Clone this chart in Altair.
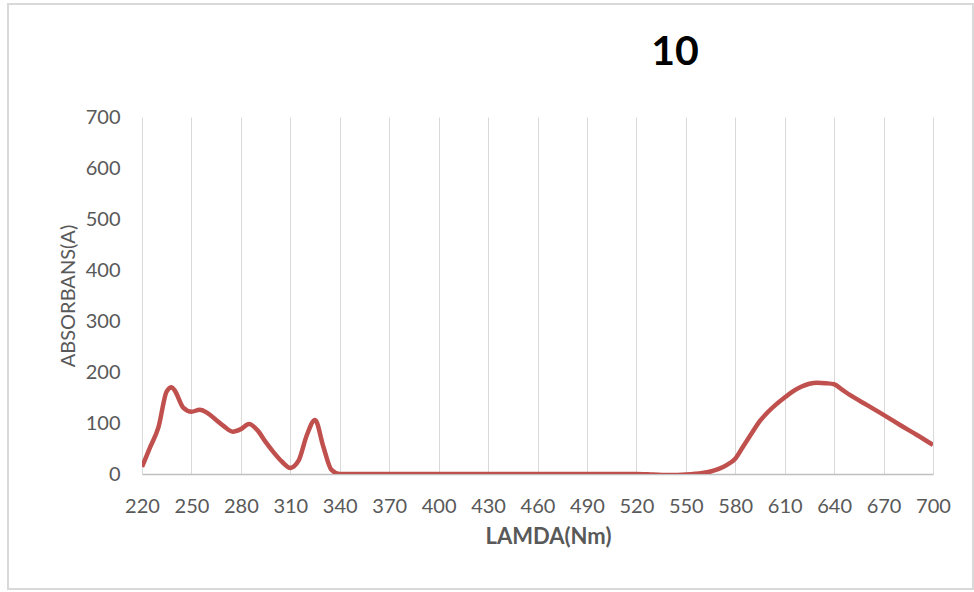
import altair as alt
import pandas as pd

wavelength = [220, 225, 230, 235, 238, 240, 245, 250, 255, 260, 265, 270, 275, 280, 285,
              290, 295, 300, 305, 310, 315, 320, 325, 330, 335, 340, 350, 370, 400, 430,
              460, 490, 520, 530, 540, 550, 560, 565, 570, 575, 580, 585, 590, 595, 600,
              605, 610, 615, 620, 625, 630, 635, 640, 645, 650, 660, 670, 680, 690, 700]
absorbance = [14, 53, 92, 162, 170, 163, 130, 122, 126, 119, 106, 93, 83, 88, 98,
              86, 63, 42, 24, 12, 26, 76, 106, 54, 8, 0, 0, 0, 0, 0,
              0, 0, 0, -1, -2, -1, 2, 5, 10, 18, 30, 55, 80, 104, 122,
              137, 150, 162, 171, 177, 179, 178, 176, 165, 154, 135, 116, 96, 77, 57]
x_ticks = list(range(220, 701, 30))
y_ticks = list(range(0, 701, 100))
chart_title = ["10"]

df = pd.DataFrame({"nm": wavelength, "a": absorbance})
title_df = pd.DataFrame({"t": chart_title})

line = alt.Chart(df).mark_line(
    color="#C0504D", strokeWidth=4.5, interpolate="monotone", clip=True
).encode(
    x=alt.X("nm:Q",
            scale=alt.Scale(domain=[220, 700], nice=False, zero=False),
            axis=alt.Axis(values=x_ticks, title="LAMDA(Nm)", grid=True,
                          gridColor="#d9d9d9", gridWidth=1, ticks=False,
                          domainColor="#bfbfbf", domainWidth=1.5,
                          labelFont="Lato", labelFontSize=20, labelColor="#595959",
                          labelPadding=22, labelFlush=False,
                          titleFont="Lato", titleFontSize=22, titleFontWeight="bold",
                          titleColor="#595959", titlePadding=10, titleX=406)),
    y=alt.Y("a:Q",
            scale=alt.Scale(domain=[0, 700], nice=False),
            axis=alt.Axis(values=y_ticks, title="ABSORBANS(A)", grid=False,
                          ticks=False, domain=False,
                          labelFont="Lato", labelFontSize=20, labelColor="#595959",
                          labelPadding=22,
                          titleFont="Lato", titleFontSize=20, titleFontWeight="normal",
                          titleColor="#595959", titlePadding=7)),
)

border = alt.Chart(title_df).mark_rect(
    fill=None, stroke="#d9d9d9", strokeWidth=2
).encode(
    x=alt.value(-134), x2=alt.value(831), y=alt.value(-113), y2=alt.value(472)
)

title = alt.Chart(title_df).mark_text(
    font="Lato", fontSize=41, fontWeight="bold", color="#000000",
    align="center", baseline="alphabetic"
).encode(
    text="t:N", x=alt.value(533), y=alt.value(-52)
)

chart = alt.layer(border, line, title).properties(
    width=791, height=357,
    autosize=alt.AutoSizeParams(type="none"),
    padding={"left": 142, "top": 117, "right": 41, "bottom": 118},
    background="white",
).configure_view(stroke=None)

chart.save("out.html", embed_options={"renderer": "svg", "actions": False})
